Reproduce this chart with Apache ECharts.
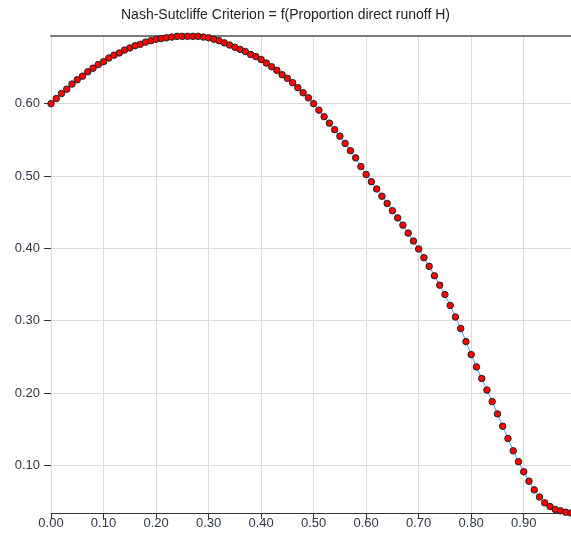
<!DOCTYPE html>
<html>
<head>
<meta charset="utf-8">
<script src="https://cdn.jsdelivr.net/npm/echarts@6/dist/echarts.min.js"></script>
<style>
  html, body { margin: 0; padding: 0; background: #fff; }
  #chartmain { width: 571px; height: 536px; }
</style>
</head>
<body>
<div id="chartmain"></div>
<script>
// proportion of direct runoff H (x) and the Nash-Sutcliffe criterion (y)
var proportions = [
  0.00, 0.01, 0.02, 0.03, 0.04, 0.05, 0.06, 0.07, 0.08, 0.09,
  0.10, 0.11, 0.12, 0.13, 0.14, 0.15, 0.16, 0.17, 0.18, 0.19,
  0.20, 0.21, 0.22, 0.23, 0.24, 0.25, 0.26, 0.27, 0.28, 0.29,
  0.30, 0.31, 0.32, 0.33, 0.34, 0.35, 0.36, 0.37, 0.38, 0.39,
  0.40, 0.41, 0.42, 0.43, 0.44, 0.45, 0.46, 0.47, 0.48, 0.49,
  0.50, 0.51, 0.52, 0.53, 0.54, 0.55, 0.56, 0.57, 0.58, 0.59,
  0.60, 0.61, 0.62, 0.63, 0.64, 0.65, 0.66, 0.67, 0.68, 0.69,
  0.70, 0.71, 0.72, 0.73, 0.74, 0.75, 0.76, 0.77, 0.78, 0.79,
  0.80, 0.81, 0.82, 0.83, 0.84, 0.85, 0.86, 0.87, 0.88, 0.89,
  0.90, 0.91, 0.92, 0.93, 0.94, 0.95, 0.96, 0.97, 0.98, 0.99
];
var nashValues = [
  0.600, 0.607, 0.614, 0.620, 0.627, 0.633, 0.638, 0.644, 0.649, 0.654,
  0.658, 0.663, 0.667, 0.670, 0.674, 0.677, 0.680, 0.682, 0.685, 0.687,
  0.689, 0.690, 0.691, 0.692, 0.693, 0.693, 0.693, 0.693, 0.693, 0.692,
  0.691, 0.689, 0.687, 0.684, 0.681, 0.678, 0.675, 0.672, 0.668, 0.665,
  0.661, 0.656, 0.651, 0.646, 0.640, 0.635, 0.629, 0.622, 0.615, 0.608,
  0.600, 0.591, 0.582, 0.573, 0.564, 0.555, 0.545, 0.535, 0.525, 0.513,
  0.502, 0.492, 0.482, 0.472, 0.462, 0.452, 0.442, 0.432, 0.421, 0.410,
  0.399, 0.387, 0.375, 0.362, 0.349, 0.336, 0.321, 0.305, 0.289, 0.271,
  0.253, 0.236, 0.220, 0.204, 0.188, 0.171, 0.154, 0.137, 0.120, 0.105,
  0.091, 0.078, 0.066, 0.056, 0.048, 0.043, 0.039, 0.037, 0.035, 0.034
];
// tick values shown on the axes
var xTicks = [0, 0.1, 0.2, 0.3, 0.4, 0.5, 0.6, 0.7, 0.8, 0.9];
var yTicks = [0.1, 0.2, 0.3, 0.4, 0.5, 0.6];
var xMin = 0, xMax = 0.99;
var yMin = 0.034, yMax = 0.6935;

window.onload = function () {
  var points = proportions.map(function (p, i) { return [p, nashValues[i]]; });

  var option = {
    animation: false,
    backgroundColor: '#fff',
    title: {
      text: 'Nash-Sutcliffe Criterion = f(Proportion direct runoff H)',
      left: 'center',
      top: 3,
      textStyle: {
        fontFamily: 'Liberation Sans, Arial, sans-serif',
        fontSize: 14,
        fontWeight: 'normal',
        color: '#222'
      }
    },
    grid: { left: 51, right: 0, top: 36, bottom: 23 },
    xAxis: [{
      type: 'value',
      min: xMin,
      max: xMax,
      axisLine: { show: true, lineStyle: { color: '#333', width: 1 } },
      axisTick: { show: true, length: 6, customValues: xTicks, lineStyle: { color: '#333' } },
      axisLabel: {
        customValues: xTicks,
        formatter: function (v) { return v.toFixed(2); },
        fontFamily: 'Liberation Sans, Arial, sans-serif',
        fontSize: 13,
        color: '#2e3648',
        margin: 4
      },
      splitLine: { show: true, lineStyle: { color: '#dadada', width: 1 } }
    }, {
      // dark line along the top of the plot
      type: 'value',
      position: 'top',
      min: xMin,
      max: xMax,
      axisLine: { show: true, lineStyle: { color: '#7a7a7a', width: 2 } },
      axisTick: { show: false },
      axisLabel: { show: false },
      splitLine: { show: false }
    }],
    yAxis: {
      type: 'value',
      min: yMin,
      max: yMax,
      axisLine: { show: false },
      axisTick: { show: true, length: 7, customValues: yTicks, lineStyle: { color: '#333' } },
      axisLabel: {
        customValues: yTicks,
        formatter: function (v) { return v.toFixed(2); },
        fontFamily: 'Liberation Sans, Arial, sans-serif',
        fontSize: 13,
        color: '#2e3648',
        margin: 11
      },
      splitLine: { show: true, lineStyle: { color: '#dadada', width: 1 } }
    },
    series: [{
      type: 'line',
      data: points,
      clip: false,
      symbol: 'circle',
      symbolSize: 6.5,
      lineStyle: { color: '#4aa3ff', width: 1 },
      itemStyle: { color: '#ff0000', borderColor: '#222', borderWidth: 1 }
    }]
  };

  var myChart = echarts.init(document.getElementById('chartmain'));
  myChart.setOption(option);
};
</script>
</body>
</html>
